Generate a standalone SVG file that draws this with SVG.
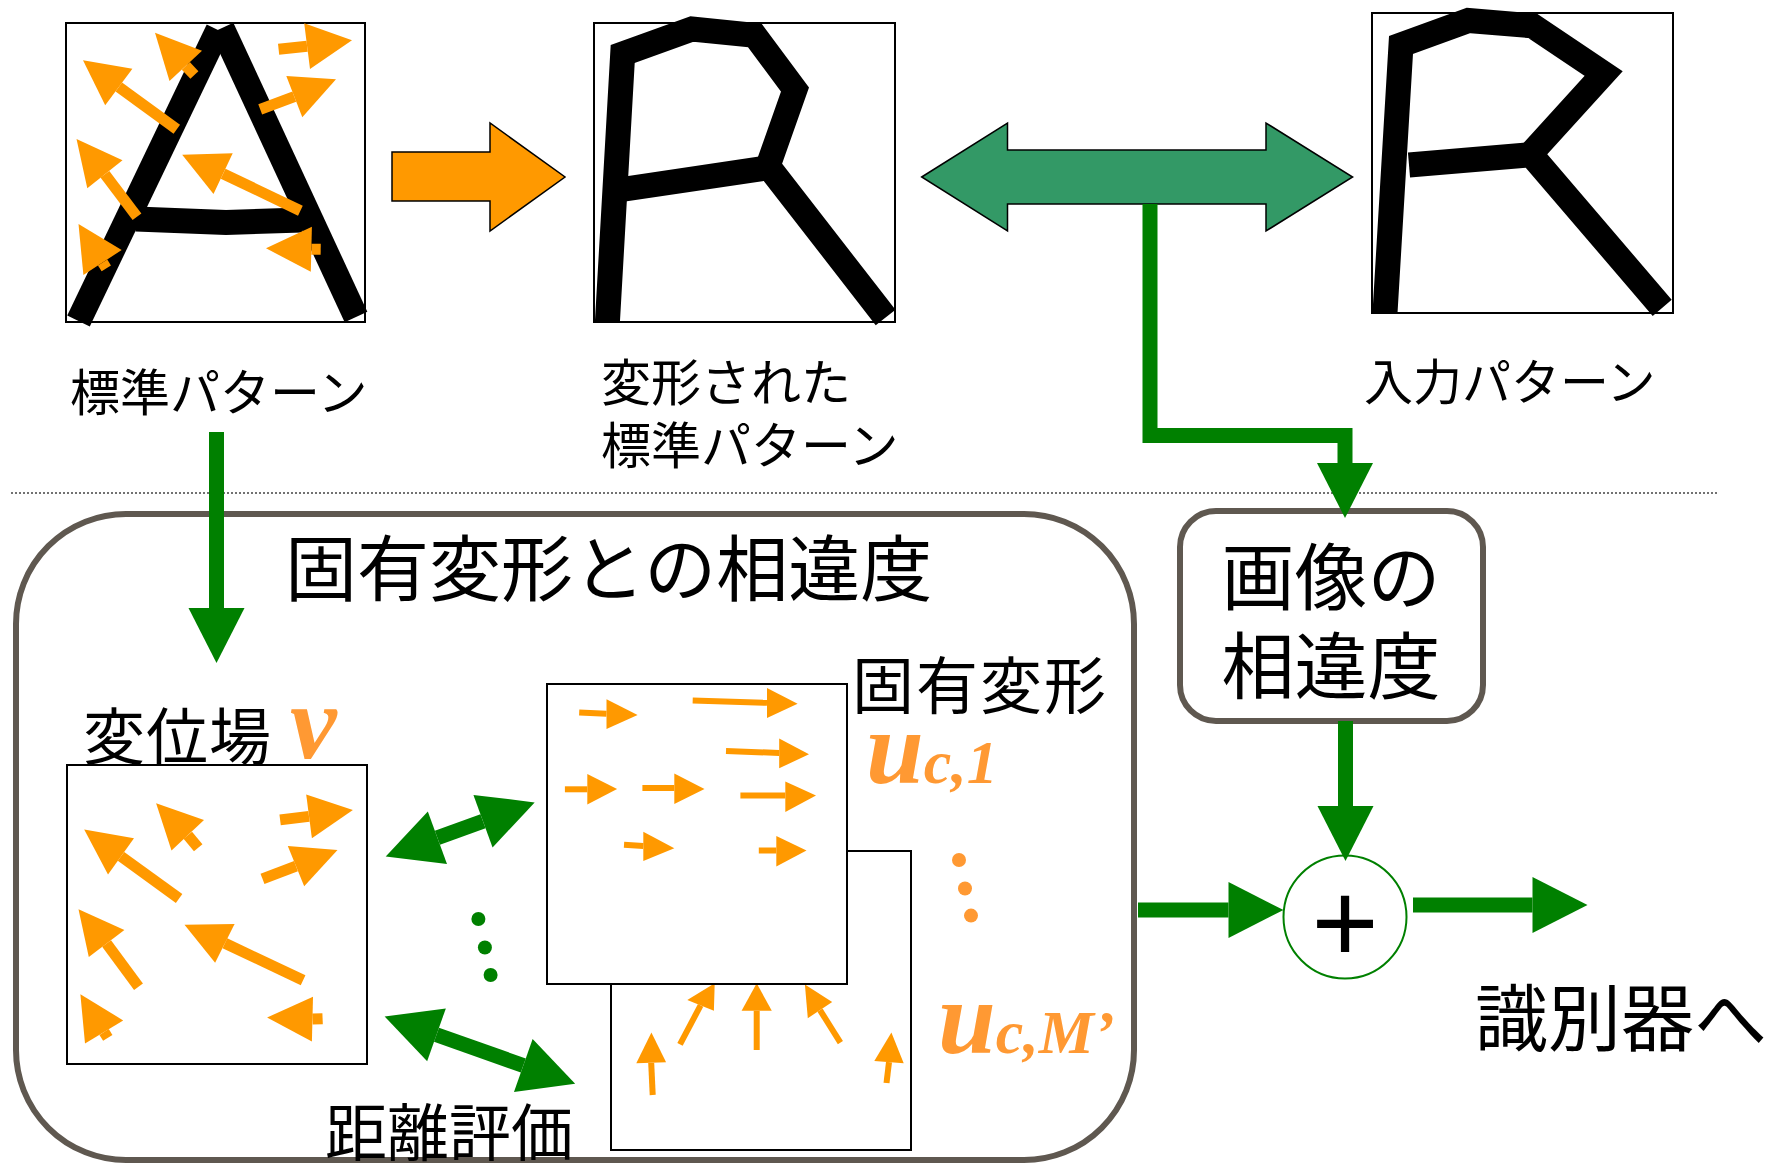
<svg xmlns="http://www.w3.org/2000/svg" width="1778" height="1165" viewBox="0 0 1778 1165">
<style>
.jp{font-family:"Noto Sans CJK JP","Noto Sans CJK SC",sans-serif;fill:#000}
.box{fill:#fff;stroke:#000;stroke-width:2}
.stroke{fill:none;stroke:#000;stroke-width:25;stroke-linejoin:miter;stroke-miterlimit:10}
.osh{stroke:#ff9900;stroke-width:11;fill:none}
.osh2{stroke:#ff9900;stroke-width:6;fill:none}
.ohd{fill:#ff9900}
.gline{fill:none;stroke:#008000;stroke-width:15;stroke-linejoin:miter}
.math{font-family:"Liberation Serif",serif;font-style:italic;font-weight:bold;fill:#ff9933}
.frame{fill:#fff;stroke:#5f5850;stroke-width:6}
</style>
<defs>
<marker id="gEnd" markerUnits="userSpaceOnUse" orient="auto" refX="0" refY="0" markerWidth="60" markerHeight="60" overflow="visible"><path d="M0,-28 L55,0 L0,28 z" fill="#008000"/></marker>
<marker id="gStart" markerUnits="userSpaceOnUse" orient="auto" refX="0" refY="0" markerWidth="60" markerHeight="60" overflow="visible"><path d="M0,-28 L-55,0 L0,28 z" fill="#008000"/></marker>
</defs>
<rect width="1778" height="1165" fill="#fff"/>

<line x1="11" y1="493" x2="1719" y2="493" stroke="#444" stroke-width="1.5" stroke-dasharray="2,2"/>

<g id="frame-eigen">
<rect class="frame" x="16" y="514" width="1118" height="646" rx="110" ry="110"/>
<text class="jp" x="285" y="595" font-size="72">固有変形との相違度</text>
</g>

<g id="standard-pattern">
<rect class="box" x="66" y="23" width="299" height="299" stroke-width="1.5"/>
<line class="stroke" x1="78.5" y1="321" x2="218" y2="30"/>
<line class="stroke" x1="222" y1="28" x2="356" y2="317"/>
<polyline class="stroke" points="136,219 226,222.5 302,220"/>
<g>
<line class="osh" x1="176.8" y1="129.3" x2="118.8" y2="87"/><polygon class="ohd" points="83,60.3 132.4,68.7 105.2,105.3"/>
<line class="osh" x1="194.4" y1="75" x2="185.8" y2="65.9"/><polygon class="ohd" points="155,32.7 202,50.7 169.5,81"/>
<line class="osh" x1="278.6" y1="49.3" x2="307.1" y2="46.2"/><polygon class="ohd" points="352,40.3 304.2,23.3 310,69"/>
<line class="osh" x1="260.2" y1="109.3" x2="294.3" y2="96.7"/><polygon class="ohd" points="336,79.3 286.3,76 302.3,117.3"/>
<line class="osh" x1="137" y1="216.7" x2="104.9" y2="174.3"/><polygon class="ohd" points="76.5,139 122.5,160.3 87.3,188.3"/>
<line class="osh" x1="300.4" y1="210.7" x2="223.1" y2="173.7"/><polygon class="ohd" points="182.2,154.7 232.7,153.3 213.5,194"/>
<line class="osh" x1="106.3" y1="268.4" x2="102.6" y2="262.5"/><polygon class="ohd" points="78.5,224 121.7,250 83.4,275"/>
<line class="osh" x1="320.7" y1="249.3" x2="311.4" y2="249.2"/><polygon class="ohd" points="266,248.3 311.9,226.7 310.8,271.7"/>
</g>
<text class="jp" x="70" y="411" font-size="50">標準パターン</text>
</g>

<g id="deform-arrow">
<polygon points="392,152 490,152 490,123 565,177 490,231 490,201 392,201" fill="#ff9900" stroke="#000" stroke-width="1.5"/>
</g>

<g id="deformed-pattern">
<rect class="box" x="594" y="23" width="301" height="299" stroke-width="1.5"/>
<polyline class="stroke" points="607.4,322 622.7,54 692,29 754.7,35.3 795,89.5 768,166 885.6,317.5"/>
<line class="stroke" x1="615" y1="190.5" x2="766" y2="168"/>
<text class="jp" x="601" y="401" font-size="50">変形された</text>
<text class="jp" x="601" y="464" font-size="50">標準パターン</text>
</g>

<g id="compare-arrow">
<polygon points="921.7,177 1007.5,123 1007.5,150 1266,150 1266,123 1352.6,177 1266,231 1266,204 1007.5,204 1007.5,231" fill="#339966" stroke="#000" stroke-width="1.5"/>
</g>

<g id="input-pattern">
<rect class="box" x="1372" y="13" width="301" height="300" stroke-width="1.5"/>
<polyline class="stroke" points="1385,313 1401,45 1468.4,20.5 1532.5,25.8 1603.7,73.5 1530.5,154 1662.2,307.8"/>
<line class="stroke" x1="1409" y1="165" x2="1527" y2="155"/>
<text class="jp" x="1364" y="400" font-size="49">入力パターン</text>
</g>

<g id="image-dissimilarity">
<rect class="frame" x="1180" y="511" width="303" height="210" rx="36" ry="36"/>
<text class="jp" x="1331" y="604" font-size="73" text-anchor="middle">画像の</text>
<text class="jp" x="1331" y="693" font-size="73" text-anchor="middle">相違度</text>
</g>

<g id="displacement-field">
<text class="jp" x="83" y="760" font-size="62" letter-spacing="1">変位場</text>
<text class="math" x="290" y="758" font-size="105">v</text>
<rect class="box" x="67" y="765" width="300" height="299"/>
<line class="osh" x1="179.1" y1="898.5" x2="121" y2="856.4"/><polygon class="ohd" points="84.2,829.5 134,838.2 108,874.5"/>
<line class="osh" x1="198.2" y1="847.8" x2="187.8" y2="835.2"/><polygon class="ohd" points="156.1,803.3 204,819.9 171.5,850.5"/>
<line class="osh" x1="280.1" y1="819.9" x2="309" y2="816.4"/><polygon class="ohd" points="352.9,809.9 306.2,794.5 311.9,838.2"/>
<line class="osh" x1="262.5" y1="878.9" x2="296" y2="866.2"/><polygon class="ohd" points="337.5,850 287.8,846.1 304.2,886.3"/>
<line class="osh" x1="138.5" y1="986.8" x2="106.6" y2="943.5"/><polygon class="ohd" points="78.5,909.3 124.4,930 88.8,957"/>
<line class="osh" x1="303.1" y1="980.2" x2="224.9" y2="943.3"/><polygon class="ohd" points="184.5,924.7 234.6,923.9 215.1,962.7"/>
<line class="osh" x1="107.8" y1="1037.9" x2="104.1" y2="1032"/><polygon class="ohd" points="80.4,994.2 123.2,1020.4 85,1043.6"/>
<line class="osh" x1="322.6" y1="1018.7" x2="312.5" y2="1019.1"/><polygon class="ohd" points="267.1,1017.4 313,996.8 311.9,1041.4"/>
</g>

<g id="eigen-deformations">
<rect class="box" x="611" y="851" width="300" height="299"/>
<line class="osh2" x1="652.7" y1="1095" x2="651.2" y2="1062.8"/><polygon class="ohd" points="651.4,1032.6 636.3,1063.2 666.1,1062.3"/>
<line class="osh2" x1="680" y1="1044.4" x2="700.6" y2="1005.4"/><polygon class="ohd" points="714.7,983.3 687.3,999.9 713.9,1010.8"/>
<line class="osh2" x1="756.7" y1="1050" x2="756.7" y2="1010.8"/><polygon class="ohd" points="756.7,983.3 741.6,1010.8 771.8,1010.8"/>
<line class="osh2" x1="840.4" y1="1042.7" x2="820" y2="1010.1"/><polygon class="ohd" points="804.9,984.6 832.2,1002 807.8,1018.2"/>
<line class="osh2" x1="886.5" y1="1083" x2="889" y2="1062.1"/><polygon class="ohd" points="891.4,1032.6 874.3,1061 903.7,1063.2"/>
<rect class="box" x="547" y="684" width="300" height="300"/>
<line class="osh2" x1="579.2" y1="712.4" x2="606.5" y2="713.7"/><polygon class="ohd" points="637.6,715 606.5,699.3 606.5,729"/>
<line class="osh2" x1="692.7" y1="700.6" x2="767" y2="702.8"/><polygon class="ohd" points="797.6,703.7 767,688 767,718"/>
<line class="osh2" x1="726" y1="750.9" x2="779.2" y2="753"/><polygon class="ohd" points="809,754.3 779.2,738.6 779.2,768.3"/>
<line class="osh2" x1="564.9" y1="789.3" x2="587.3" y2="789.3"/><polygon class="ohd" points="617.1,788.9 587.3,774 587.3,804.6"/>
<line class="osh2" x1="642.4" y1="788" x2="674.3" y2="788"/><polygon class="ohd" points="704.5,788.9 674.3,773.6 674.3,804"/>
<line class="osh2" x1="740.4" y1="795.4" x2="785.3" y2="795.4"/><polygon class="ohd" points="816,795.4 785.3,781.4 785.3,812"/>
<line class="osh2" x1="624" y1="844.8" x2="643.3" y2="846"/><polygon class="ohd" points="674.3,848.3 643.3,831.7 643.3,861"/>
<line class="osh2" x1="758.8" y1="850.5" x2="776.3" y2="850.5"/><polygon class="ohd" points="806.5,850.5 776.3,836 776.3,866.6"/>
<text class="jp" x="852" y="709" font-size="62" letter-spacing="2">固有変形</text>
<text class="math" x="866" y="783"><tspan font-size="104">u</tspan><tspan font-size="62">c,1</tspan></text>
<circle cx="959" cy="860" r="7" fill="#ff9933"/>
<circle cx="965" cy="888.5" r="7" fill="#ff9933"/>
<circle cx="971" cy="915.6" r="7" fill="#ff9933"/>
<text class="math" x="938" y="1053"><tspan font-size="104">u</tspan><tspan font-size="62">c,M’</tspan></text>
</g>

<g id="distance-eval">
<text class="jp" x="325" y="1156" font-size="62">距離評価</text>
<circle cx="478.4" cy="919" r="7" fill="#008000"/>
<circle cx="484.9" cy="947.5" r="7" fill="#008000"/>
<circle cx="490.6" cy="975" r="7" fill="#008000"/>
</g>

<g id="sum-node">
<circle cx="1345" cy="917" r="61.5" fill="#fff" stroke="#008000" stroke-width="2"/>
<text x="1345" y="962" font-family="Liberation Sans, Arial, sans-serif" font-size="115" text-anchor="middle" fill="#000">+</text>
</g>

<g id="output-label">
<text class="jp" x="1475" y="1045" font-size="73">識別器へ</text>
</g>

<g id="connectors">
<path class="gline" d="M1150,204 V435.5 H1345 V463" marker-end="url(#gEnd)"/>
<path class="gline" d="M216.5,432 V608" marker-end="url(#gEnd)"/>
<path class="gline" d="M1345.5,721 V806" marker-end="url(#gEnd)"/>
<path class="gline" d="M1138,910 H1228.5" marker-end="url(#gEnd)"/>
<path class="gline" d="M1413,905 H1532.5" marker-end="url(#gEnd)"/>
<path class="gline" d="M437.4,837.8 L483,821.2" marker-start="url(#gStart)" marker-end="url(#gEnd)"/>
<path class="gline" d="M436.5,1034.8 L523.3,1065.5" marker-start="url(#gStart)" marker-end="url(#gEnd)"/>
</g>
</svg>
